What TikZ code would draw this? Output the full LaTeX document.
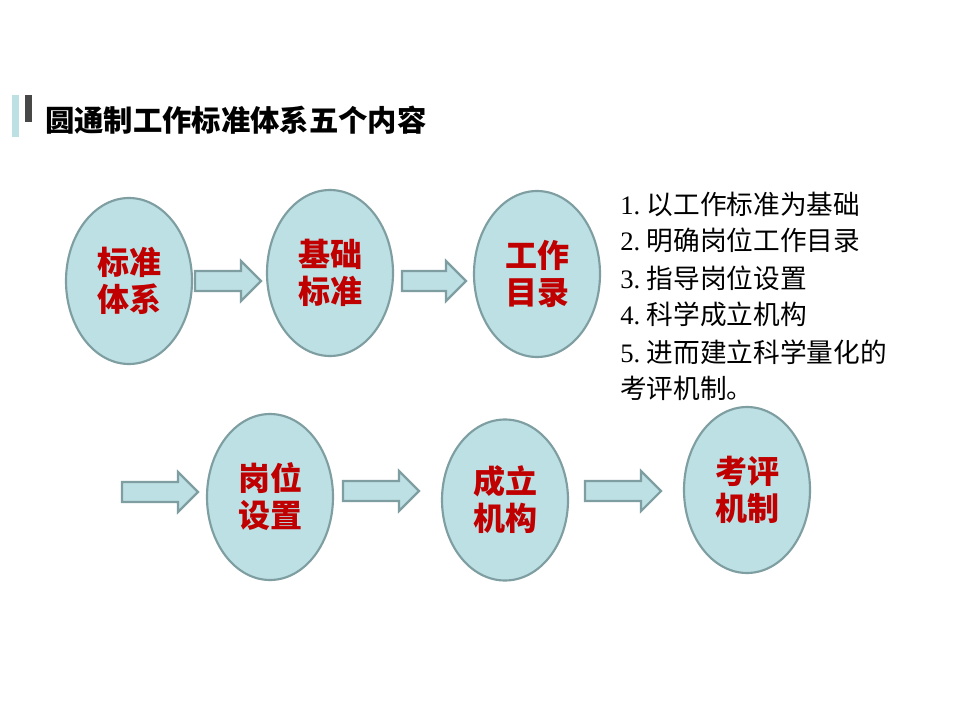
\documentclass[tikz,border=0pt]{standalone}
\usepackage{fontspec}
\setmainfont{Noto Sans CJK SC}
\newfontfamily\numfont{Liberation Serif}
\usetikzlibrary{shapes.geometric,calc}
\definecolor{bubfill}{RGB}{189,224,228}
\definecolor{bubline}{RGB}{126,158,161}
\definecolor{bubtext}{RGB}{192,0,0}
\definecolor{barlight}{RGB}{189,224,228}
\definecolor{bardark}{RGB}{72,72,72}
\newcommand\blockarrow[2]{\draw[barrow] let \p1=(#1),\p2=(#2) in
  (\x1,\y1+7.5pt) -- (\x2-15pt,\y1+7.5pt) -- (\x2-15pt,\y1+15pt) -- (\x2,\y1)
  -- (\x2-15pt,\y1-15pt) -- (\x2-15pt,\y1-7.5pt) -- (\x1,\y1-7.5pt) -- cycle;}
\begin{document}
\begin{tikzpicture}[x=0.75pt,y=-0.75pt,
  bub/.style={ellipse, draw=bubline, fill=bubfill, line width=1.6pt,
    minimum width=94.5pt, minimum height=124.5pt, inner sep=0pt,
    text=bubtext, font=\fontsize{24}{27.75}\selectfont\bfseries, align=center},
  barrow/.style={draw=bubline, fill=bubfill, line width=1.6pt, line join=miter},
  listtxt/.style={anchor=base west, inner sep=0pt, font=\fontsize{20}{24}\selectfont}]
\useasboundingbox (0,0) rectangle (960,720);
\fill[white] (0,0) rectangle (960,720);
% title
\fill[barlight] (12,95) rectangle (19,137);
\fill[bardark] (25,95) rectangle (32,122);
\node[anchor=west, inner sep=0pt, font=\fontsize{22}{26}\selectfont\bfseries] (title) at (45,120) {圆通制工作标准体系五个内容};
% ellipses
\node[bub] (e1) at (129,281) {标准\\体系};
\node[bub] (e2) at (330,273) {基础\\标准};
\node[bub] (e3) at (537,274) {工作\\目录};
\node[bub] (e4) at (270,497) {岗位\\设置};
\node[bub, minimum height=120.75pt] (e5) at (505,500) {成立\\机构};
\node[bub] (e6) at (747,490) {考评\\机制};
% arrows
\coordinate (a1s) at (195,281); \coordinate (a1t) at (261,281);
\coordinate (a2s) at (402,281); \coordinate (a2t) at (466,281);
\coordinate (a3s) at (122,492); \coordinate (a3t) at (198,492);
\coordinate (a4s) at (343,491); \coordinate (a4t) at (419,491);
\coordinate (a5s) at (585,491); \coordinate (a5t) at (661,491);
\blockarrow{a1s}{a1t}
\blockarrow{a2s}{a2t}
\blockarrow{a3s}{a3t}
\blockarrow{a4s}{a4t}
\blockarrow{a5s}{a5t}
% list
\node[listtxt] (l1) at (620,215) {{\numfont 1.}\hspace{5pt}以工作标准为基础};
\node[listtxt] (l2) at (620,251) {{\numfont 2.}\hspace{5pt}明确岗位工作目录};
\node[listtxt] (l3) at (620,288) {{\numfont 3.}\hspace{5pt}指导岗位设置};
\node[listtxt] (l4) at (620,325) {{\numfont 4.}\hspace{5pt}科学成立机构};
\node[listtxt] (l5) at (620,362) {{\numfont 5.}\hspace{5pt}进而建立科学量化的};
\node[listtxt] (l6) at (620,398) {考评机制。};
\end{tikzpicture}
\end{document}
